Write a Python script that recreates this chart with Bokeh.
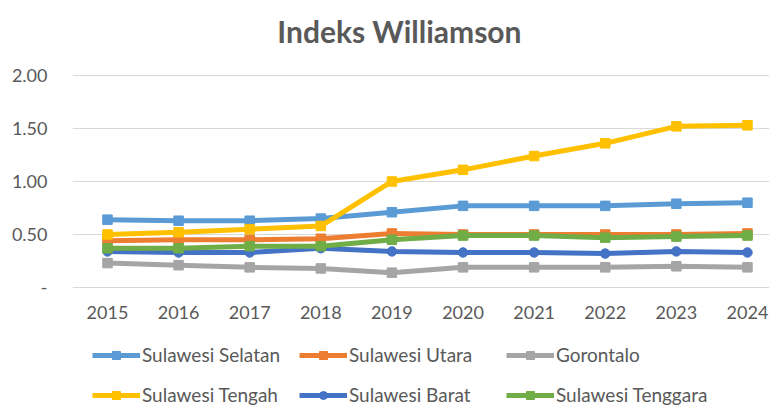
from bokeh.plotting import figure
from bokeh.layouts import column
from bokeh.models import Range1d, FixedTicker, CustomJSTickFormatter, Legend, LegendItem, Label
from bokeh.embed import file_html
from bokeh.resources import INLINE

years = [2015, 2016, 2017, 2018, 2019, 2020, 2021, 2022, 2023, 2024]
sul_selatan = [0.64, 0.63, 0.63, 0.65, 0.71, 0.77, 0.77, 0.77, 0.79, 0.80]
sul_utara = [0.44, 0.45, 0.45, 0.46, 0.51, 0.50, 0.50, 0.50, 0.50, 0.51]
gorontalo = [0.23, 0.21, 0.19, 0.18, 0.14, 0.19, 0.19, 0.19, 0.20, 0.19]
sul_tengah = [0.50, 0.52, 0.55, 0.58, 1.00, 1.11, 1.24, 1.36, 1.52, 1.53]
sul_barat = [0.34, 0.33, 0.33, 0.37, 0.34, 0.33, 0.33, 0.32, 0.34, 0.33]
sul_tenggara = [0.37, 0.37, 0.39, 0.39, 0.45, 0.49, 0.49, 0.47, 0.48, 0.49]

series_names = ["Sulawesi Selatan", "Sulawesi Utara", "Gorontalo",
                "Sulawesi Tengah", "Sulawesi Barat", "Sulawesi Tenggara"]
series_values = [sul_selatan, sul_utara, gorontalo, sul_tengah, sul_barat, sul_tenggara]
series_colors = ["#5B9BD5", "#ED7D31", "#A5A5A5", "#FFC000", "#4472C4", "#70AD47"]
series_markers = ["square", "square", "square", "square", "circle", "square"]
y_ticks = [0, 0.5, 1.0, 1.5, 2.0]
chart_title = "Indeks Williamson"

FONT = "Lato"
TXT = "#595959"


def strip(height):
    f = figure(width=769, height=height, output_backend="svg", toolbar_location=None,
               x_range=Range1d(0, 1), y_range=Range1d(0, 1), title_location=None,
               min_border_left=0, min_border_right=0, min_border_top=0, min_border_bottom=0)
    f.axis.visible = False
    f.grid.visible = False
    f.outline_line_color = None
    return f


# title strip
t = strip(55)
t.add_layout(Label(x=327, y=25, x_units="screen", y_units="screen", text=chart_title,
                   text_align="center", text_baseline="middle", text_font=FONT,
                   text_font_size="30px", text_font_style="bold", text_color=TXT))

# main chart
p = figure(width=769, height=285, output_backend="svg", toolbar_location=None,
           x_range=Range1d(2014.508, 2024.31), y_range=Range1d(-0.019, 2.066),
           title_location=None,
           min_border_left=72, min_border_right=0, min_border_top=13,
           min_border_bottom=51)
p.outline_line_color = None
p.xgrid.grid_line_color = None
p.ygrid.grid_line_color = "#D9D9D9"
p.ygrid.grid_line_width = 1

p.xaxis.ticker = FixedTicker(ticks=years)
p.yaxis.ticker = FixedTicker(ticks=y_ticks)
p.yaxis.formatter = CustomJSTickFormatter(code="return tick == 0 ? '-' : tick.toFixed(2);")
p.xaxis.formatter = CustomJSTickFormatter(code="return String(tick);")
for ax in (p.xaxis, p.yaxis):
    ax.axis_line_color = None
    ax.major_tick_line_color = None
    ax.minor_tick_line_color = None
    ax.major_label_text_font = FONT
    ax.major_label_text_font_size = "18px"
    ax.major_label_text_color = TXT
p.yaxis.major_label_standoff = 19
p.xaxis.major_label_standoff = 10

for name, vals, col, mk in zip(series_names, series_values, series_colors, series_markers):
    p.line(years, vals, line_color=col, line_width=5)
    p.scatter(years, vals, marker=mk, size=9.5, fill_color=col, line_color=col)

# legend strip below the chart (its proxy glyphs lie outside its visible range)
q = strip(66)
by_name = {}
for name, vals, col, mk in zip(series_names, series_values, series_colors, series_markers):
    r1 = q.line(years[:1], vals[:1], line_color=col, line_width=5)
    r2 = q.scatter(years[:1], vals[:1], marker=mk, size=9.5, fill_color=col, line_color=col)
    by_name[name] = LegendItem(label=name, renderers=[r1, r2])
# the legend fills column by column: reorder so rows read like the reference
order = [0, 3, 1, 4, 2, 5]
items = [by_name[series_names[i]] for i in order]
legend = Legend(items=items, ncols=3, location=(20, 0),
                label_text_font=FONT, label_text_font_size="19px", label_text_color=TXT,
                glyph_width=48, glyph_height=20, label_height=20, label_width=140,
                label_standoff=2, spacing=17, padding=0, margin=0,
                border_line_color=None, background_fill_alpha=0)
q.add_layout(legend, "center")

layout = column(t, p, q, spacing=0)
open("out.html", "w").write(file_html(layout, INLINE))
